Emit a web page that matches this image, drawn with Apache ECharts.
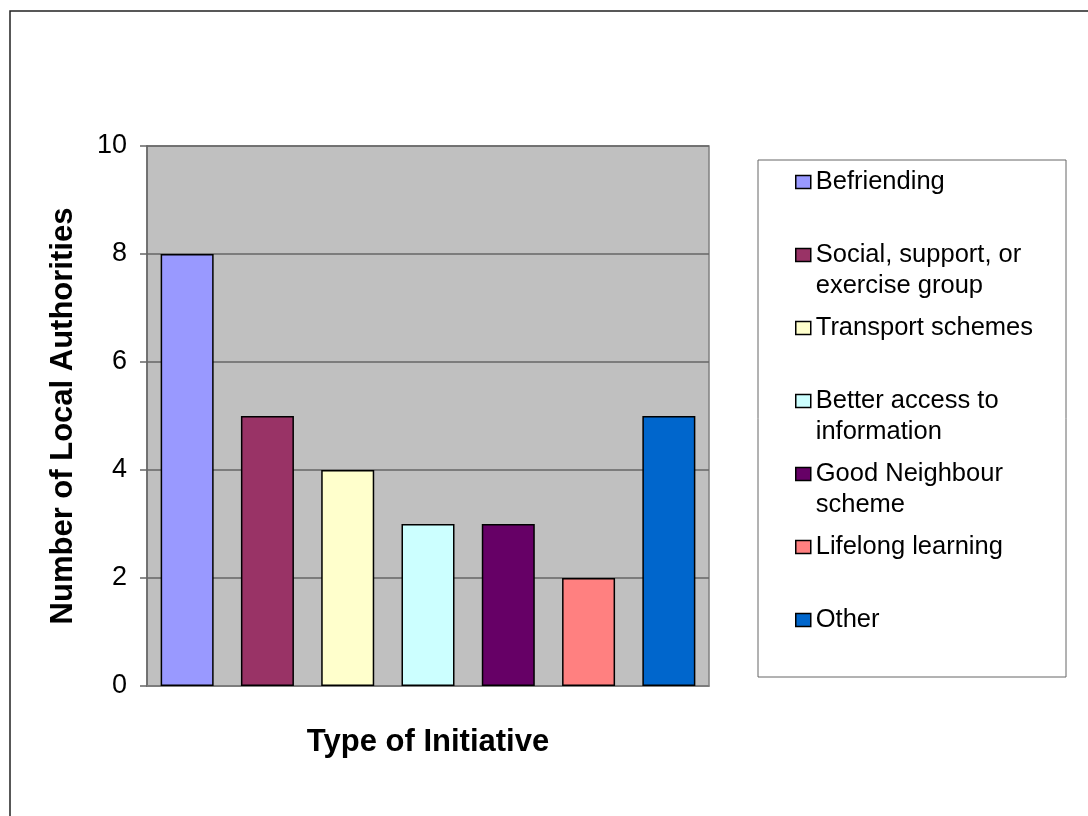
<!DOCTYPE html>
<html>
<head>
<meta charset="utf-8">
<script src="https://cdn.jsdelivr.net/npm/echarts@6/dist/echarts.min.js"></script>
<style>
  html, body { margin: 0; padding: 0; background: #fff; }
  #main { width: 1088px; height: 816px; }
</style>
</head>
<body>
<div id="main"></div>
<script>
// data
const categories = ['Befriending', 'Social, support, or exercise group', 'Transport schemes',
  'Better access to information', 'Good Neighbour scheme', 'Lifelong learning', 'Other'];
const legendLabels = ['Befriending', 'Social, support, or\nexercise group', 'Transport schemes',
  'Better access to\ninformation', 'Good Neighbour\nscheme', 'Lifelong learning', 'Other'];
const counts = [8, 5, 4, 3, 3, 2, 5];
const colors = ['#9999FF', '#993366', '#FFFFCC', '#CCFFFF', '#660066', '#FF8080', '#0066CC'];
const yTicks = [0, 2, 4, 6, 8, 10];

const myChart = echarts.init(document.getElementById('main'));
const font = 'Liberation Sans, Arial, sans-serif';

// one legend block per item; wrapped labels get an empty first line
// so that the marker sits beside the first real line
const legends = categories.map((name, i) => {
  const twoLines = legendLabels[i].indexOf('\n') >= 0;
  const iconCenter = 182 + i * 73;
  return {
    orient: 'vertical',
    left: 795,
    top: twoLines ? iconCenter - 46.5 : iconCenter - 15.5,
    padding: 0,
    data: [name],
    icon: 'rect',
    itemWidth: 15,
    itemHeight: 13,
    itemGap: 0,
    selectedMode: false,
    formatter: () => (twoLines ? ' \n' + legendLabels[i] : legendLabels[i]),
    itemStyle: { borderColor: '#000', borderWidth: 1.5 },
    textStyle: {
      fontFamily: font,
      fontSize: 25.5,
      color: '#000',
      lineHeight: 31
    }
  };
});

const option = {
  animation: false,
  backgroundColor: '#fff',
  graphic: [
    // outer chart frame
    { type: 'rect', shape: { x: 10, y: 11, width: 1200, height: 900 },
      style: { fill: 'none', stroke: '#222', lineWidth: 1.5 }, z: -10 },
    // legend frame
    { type: 'rect', shape: { x: 758, y: 160, width: 308, height: 517 },
      style: { fill: '#fff', stroke: '#666', lineWidth: 1 }, z: -5 }
  ],
  legend: legends,
  grid: {
    left: 147,
    top: 146,
    right: 379,
    bottom: 130,
    show: true,
    backgroundColor: '#C0C0C0',
    borderColor: '#808080',
    borderWidth: 1.5
  },
  xAxis: {
    type: 'category',
    data: categories,
    name: 'Type of Initiative',
    nameLocation: 'middle',
    nameGap: 41,
    nameTextStyle: { fontFamily: font, fontSize: 31, fontWeight: 'bold', color: '#000' },
    axisLine: { show: true, lineStyle: { color: '#808080', width: 1.5 } },
    axisTick: { show: false },
    axisLabel: { show: false },
    splitLine: { show: false }
  },
  yAxis: {
    type: 'value',
    min: yTicks[0],
    max: yTicks[yTicks.length - 1],
    interval: 2,
    name: 'Number of Local Authorities',
    nameLocation: 'middle',
    nameGap: 68,
    nameTextStyle: { fontFamily: font, fontSize: 31, fontWeight: 'bold', color: '#000' },
    axisLine: { show: true, lineStyle: { color: '#666', width: 1.5 } },
    axisTick: { show: true, inside: false, length: 7, lineStyle: { color: '#666', width: 1.5 } },
    axisLabel: { margin: 20, fontFamily: font, fontSize: 27, color: '#000' },
    splitLine: { show: true, lineStyle: { color: '#666', width: 1.5 } }
  },
  series: categories.map((name, i) => ({
    name: name,
    type: 'bar',
    stack: 'all',
    barWidth: 53,
    data: counts.map((v, j) => (j === i ? v : '-')),
    itemStyle: { color: colors[i], borderColor: '#000', borderWidth: 1.5 }
  }))
};
option && myChart.setOption(option);
</script>
</body>
</html>
